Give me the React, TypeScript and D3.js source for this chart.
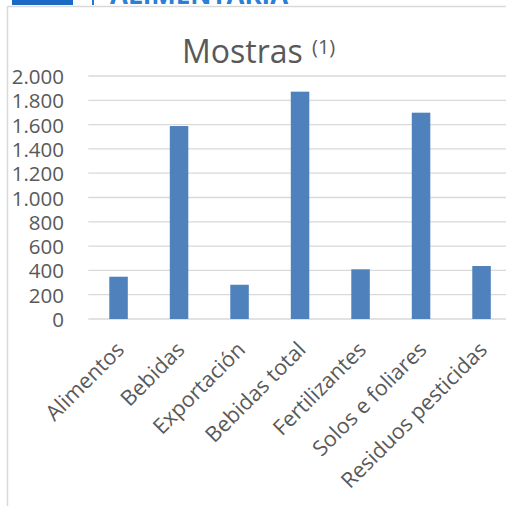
import React from "react";
import * as d3 from "d3";

const categories = [
  "Alimentos",
  "Bebidas",
  "Exportación",
  "Bebidas total",
  "Fertilizantes",
  "Solos e foliares",
  "Residuos pesticidas",
];
const values = [348, 1588, 282, 1871, 409, 1698, 436];
const yTicks = [0, 200, 400, 600, 800, 1000, 1200, 1400, 1600, 1800, 2000];
const title = "Mostras";
const titleNote = "(1)";
const headerText = "ALIMENTARIA";

const fmt = (v: number) => (v >= 1000 ? d3.format(",")(v).replace(/,/g, ".") : String(v));

export default function App() {
  const W = 506;
  const H = 506;
  const x = d3
    .scaleBand<string>()
    .domain(categories)
    .range([88.3, 511.8])
    .paddingInner(0.694)
    .paddingOuter(0.347);
  const y = d3.scaleLinear().domain([0, 2000]).range([319, 76]);
  const font = "'Open Sans', sans-serif";
  const gray = "#595959";

  return (
    <svg
      width={W}
      height={H}
      style={{ position: "fixed", left: 0, top: 0, background: "#fff" }}
      fontFamily={font}
    >
      <rect x={0} y={0} width={W} height={H} fill="#fff" />
      {/* header remnants */}
      <rect x={12} y={0} width={61} height={5} fill="#1b6ac3" />
      <rect x={92} y={0} width={2} height={5} fill="#1f78d1" />
      <text x={110} y={4} fontSize={26} fontWeight="bold" fill="#2a7fd6">
        {headerText}
      </text>
      {/* frame */}
      <line x1={7.5} x2={W} y1={6.5} y2={6.5} stroke="#d9d9d9" strokeWidth={1.5} />
      <line x1={7.5} x2={7.5} y1={6.5} y2={H} stroke="#d9d9d9" strokeWidth={1.5} />
      {/* title */}
      <text x={182} y={63} fontSize={32} fill={gray}>
        {title}
      </text>
      <text x={312} y={54} fontSize={20} fill={gray}>
        {titleNote}
      </text>
      {/* gridlines */}
      {yTicks.map((t) => (
        <line
          key={t}
          x1={88.3}
          x2={W}
          y1={y(t)}
          y2={y(t)}
          stroke="#d9d9d9"
          strokeWidth={1.3}
        />
      ))}
      {/* y tick labels */}
      {yTicks.map((t) => (
        <text
          key={"l" + t}
          x={64}
          y={y(t)}
          textAnchor="end"
          dominantBaseline="central"
          fontSize={20.5}
          fill={gray}
        >
          {fmt(t)}
        </text>
      ))}
      {/* bars */}
      {categories.map((c, i) => (
        <rect
          key={c}
          x={x(c)}
          y={y(values[i])}
          width={x.bandwidth()}
          height={y(0) - y(values[i])}
          fill="#4f81bd"
        />
      ))}
      {/* category labels */}
      {categories.map((c) => {
        const cx = (x(c) as number) + x.bandwidth() / 2;
        return (
          <text
            key={"c" + c}
            transform={`translate(${cx + 7},${351}) rotate(-45)`}
            textAnchor="end"
            fontSize={21.5}
            fill={gray}
          >
            {c}
          </text>
        );
      })}
    </svg>
  );
}
